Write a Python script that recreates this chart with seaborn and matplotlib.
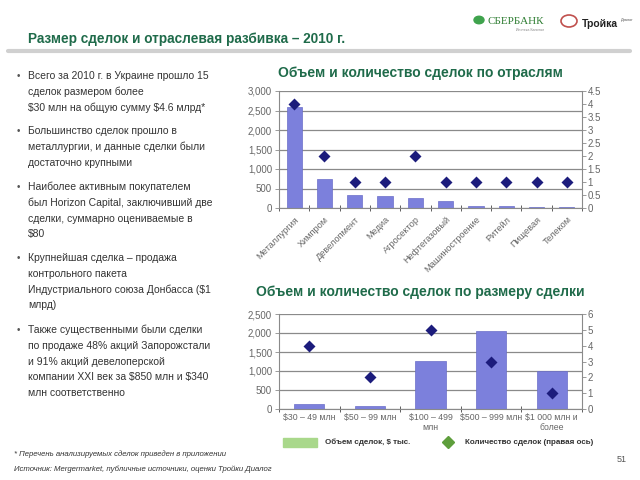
import numpy as np
import pandas as pd
import matplotlib
matplotlib.use("Agg")
import matplotlib.pyplot as plt
import seaborn as sns
from matplotlib.lines import Line2D
from matplotlib.patches import Rectangle
from matplotlib.ticker import FuncFormatter, MultipleLocator

# --- data ---
sectors = ['Металлургия', 'Химпром', 'Девелопмент', 'Медиа', 'Агросектор',
           'Нефтегазовый', 'Машиностроение', 'Ритейл', 'Пищевая', 'Телеком']
sector_volume = [2600, 750, 340, 310, 250, 175, 50, 40, 25, 25]
sector_count = [4, 2, 1, 1, 2, 1, 1, 1, 1, 1]

size_bins = ['$30 – 49 млн', '$50 – 99 млн', '$100 – 499\nмлн',
             '$500 – 999 млн', '$1 000 млн и\nболее']
size_volume = [140, 90, 1260, 2050, 1000]
size_count = [4, 2, 5, 3, 1]

bullets = [
    ['Всего за 2010 г. в Украине прошло 15', 'сделок размером более',
     '$30 млн на общую сумму $4.6 млрд*'],
    ['Большинство сделок прошло в', 'металлургии, и данные сделки были',
     'достаточно крупными'],
    ['Наиболее активным покупателем', 'был Horizon Capital, заключивший две',
     'сделки, суммарно оцениваемые в', '$80'],
    ['Крупнейшая сделка – продажа', 'контрольного пакета',
     'Индустриального союза Донбасса ($1', 'млрд)'],
    ['Также существенными были сделки', 'по продаже 48% акций Запорожстали',
     'и 91% акций девелоперской', 'компании XXI век за $850 млн и $340',
     'млн соответственно'],
]
bullet_tops = [76, 131, 187, 258, 330]

BAR = '#7c80dc'
DIAM = '#1c1c7c'
GREEN = '#1f6b4a'
GRID = '#8a8a8a'
TICK = '#666666'

sns.set_theme(style="white")
plt.rcParams['font.family'] = ['Liberation Sans', 'DejaVu Sans']
plt.rcParams['text.parse_math'] = False

fig = plt.figure(figsize=(6.4, 4.8), dpi=100)
W, H = 640, 480


def px(x, y):
    return x / W, 1 - y / H


def combo(rect, cats, vol, cnt, ymax, ystep, y2max, y2step, rotate):
    df = pd.DataFrame({'cat': cats, 'vol': vol, 'cnt': cnt})
    ax = fig.add_axes(rect)
    sns.barplot(data=df, x='cat', y='vol', ax=ax, color=BAR, saturation=1,
                width=0.5, edgecolor='#6a6ec8', linewidth=0.5)
    ax2 = ax.twinx()
    sns.pointplot(data=df, x='cat', y='cnt', ax=ax2, color=DIAM, marker='D',
                  linestyle='none', markersize=4.1, errorbar=None)
    n = len(cats)
    ax.set_xlim(-0.5, n - 0.5)
    ax.set_ylim(0, ymax)
    ax2.set_ylim(0, y2max)
    ax.yaxis.set_major_locator(MultipleLocator(ystep))
    ax2.yaxis.set_major_locator(MultipleLocator(y2step))
    ax.yaxis.set_major_formatter(FuncFormatter(lambda v, p: f'{v:,.0f}'))
    ax2.yaxis.set_major_formatter(FuncFormatter(lambda v, p: f'{v:g}'))
    ax.set_axisbelow(True)
    ax.grid(axis='y', color=GRID, linewidth=0.9)
    ax.grid(axis='x', visible=False)
    ax2.grid(False)
    for a in (ax, ax2):
        a.set_xlabel('')
        a.set_ylabel('')
        for s in a.spines.values():
            s.set_visible(False)
    ax.spines['left'].set_visible(True)
    ax.spines['bottom'].set_visible(True)
    ax2.spines['right'].set_visible(True)
    for s in (ax.spines['left'], ax.spines['bottom'], ax2.spines['right']):
        s.set_color(GRID)
        s.set_linewidth(0.8)
    ax.tick_params(axis='y', left=True, direction='out', length=3, width=0.6,
                   color=GRID, labelsize=7, labelcolor=TICK, pad=2)
    ax2.tick_params(axis='y', right=True, direction='out', length=3, width=0.6,
                    color=GRID, labelsize=7, labelcolor=TICK, pad=1)
    ax.set_xticks(np.arange(n))
    ax.set_xticks(np.arange(n + 1) - 0.5, minor=True)
    ax.tick_params(axis='x', which='minor', bottom=True, direction='inout',
                   length=4, width=0.6, color='#444444')
    if rotate:
        ax.tick_params(axis='x', which='major', bottom=False, length=0,
                       labelsize=6.6, labelcolor=TICK, pad=5)
        ax.set_xticklabels(cats, rotation=45, ha='right', rotation_mode='anchor')
    else:
        ax.tick_params(axis='x', which='major', bottom=False, length=0,
                       labelsize=6.3, labelcolor=TICK, pad=3)
        ax.set_xticklabels(cats, linespacing=1.1)
    ax2.tick_params(axis='x', bottom=False, labelbottom=False)
    return ax, ax2


combo([279 / W, 1 - 208 / H, 303 / W, 117 / H], sectors, sector_volume,
      sector_count, 3000, 500, 4.5, 0.5, True)
combo([279 / W, 1 - 409 / H, 303 / W, 95 / H], size_bins, size_volume,
      size_count, 2500, 500, 6, 1, False)

# --- header ---
fig.text(*px(28, 43), 'Размер сделок и отраслевая разбивка – 2010 г.',
         fontsize=9.8, fontweight='bold', color=GREEN, va='baseline')
fig.add_artist(Line2D([8 / W, 630 / W], [1 - 51 / H] * 2, color='#d0d0d0',
                      linewidth=3, transform=fig.transFigure))
fig.add_artist(plt.Circle(px(479, 20), 5 / W, color='#3fa34d',
                          transform=fig.transFigure))
fig.text(*px(487, 24), 'СБЕРБАНК', fontsize=8, color='#2e7d32',
         family='Liberation Serif', va='baseline')
fig.text(*px(516, 31), 'Ипотека Капитал', fontsize=2.5, color='#888888',
         va='baseline')
fig.add_artist(plt.Circle(px(569, 21), 8 / W, fill=False, color='#c0504d',
                          linewidth=1.2, transform=fig.transFigure))
fig.text(*px(582, 27), 'Тройка', fontsize=7.5, fontweight='bold',
         color='#222222', va='baseline')
fig.text(*px(621, 21), 'Диалог', fontsize=2.8, color='#555555', va='baseline')

# --- chart titles ---
fig.text(*px(420, 77), 'Объем и количество сделок по отраслям', fontsize=10,
         fontweight='bold', color=GREEN, ha='center', va='baseline')
fig.text(*px(420, 296), 'Объем и количество сделок по размеру сделки',
         fontsize=10, fontweight='bold', color=GREEN, ha='center',
         va='baseline')

# --- bullets ---
for lines, top in zip(bullets, bullet_tops):
    fig.text(*px(17, top), '•', fontsize=7, color='#555555', va='center')
    for i, line in enumerate(lines):
        fig.text(*px(28, top + i * 15.8), line, fontsize=7.5,
                 color='#333333', va='center')

# --- legend ---
fig.add_artist(Rectangle(px(283, 447), 34 / W, 9 / H, color='#a9d88b',
                         transform=fig.transFigure))
fig.text(*px(325, 442), 'Объем сделок, $ тыс.', fontsize=5.8,
         fontweight='bold', color='#333333', va='center')
fig.add_artist(Line2D([448 / W], [1 - 442 / H], marker='D', markersize=6,
                      color='#5e9e3c', linestyle='none',
                      transform=fig.transFigure))
fig.text(*px(465, 442), 'Количество сделок (правая ось)', fontsize=5.8,
         fontweight='bold', color='#333333', va='center')

# --- footer ---
fig.text(*px(14, 454), '* Перечень анализируемых сделок приведен в приложении',
         fontsize=5.6, style='italic', color='#333333', va='center')
fig.text(*px(14, 469),
         'Источник: Mergermarket, публичные источники, оценки Тройки Диалог',
         fontsize=5.6, style='italic', color='#333333', va='center')
fig.text(*px(627, 459), '51', fontsize=6.5, color='#555555', ha='right',
         va='center')

fig.savefig('out.png', dpi=100)
